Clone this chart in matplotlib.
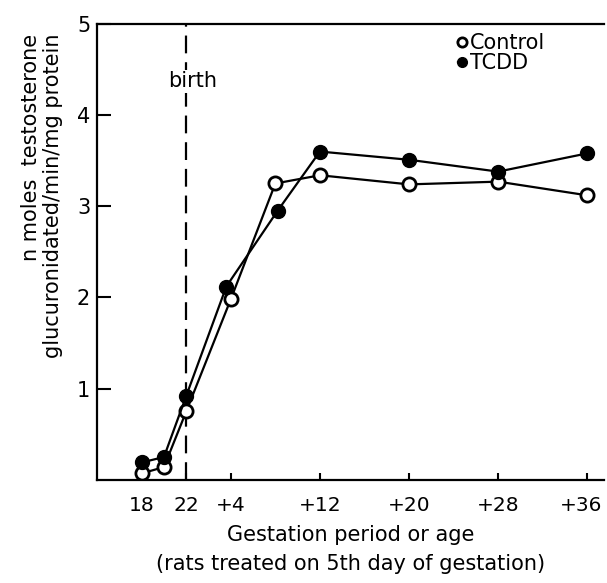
import matplotlib
matplotlib.use('Agg')
from matplotlib import pyplot as plt
from matplotlib.transforms import ScaledTranslation

# gestation day (18, 20, 22 = birth) then age after birth (+4 ... +36 -> 26 ... 58)
control_x = [18, 20, 22, 26, 30, 34, 42, 50, 58]
control_y = [0.07, 0.14, 0.75, 1.98, 3.25, 3.34, 3.24, 3.27, 3.12]
tcdd_x = [18, 20, 22, 25.6, 30.2, 34, 42, 50, 58]
tcdd_y = [0.19, 0.25, 0.92, 2.12, 2.95, 3.6, 3.51, 3.38, 3.58]

tick_pos = [18, 22, 26, 34, 42, 50, 58]
tick_labels = ['18', '22', '+4', '+12', '+20', '+28', '+36']
birth_day = 22

fontsize = 15

fig = plt.figure(figsize=(6.07, 5.83), dpi=100)
ax = fig.add_axes([0.160, 0.177, 0.835, 0.782])

ax.axvline(birth_day, color='black', linestyle=(0, (8, 4)), linewidth=1.6, zorder=1)
ax.text(birth_day + 0.6, 4.37, 'birth', fontsize=fontsize, ha='center', va='center',
        bbox=dict(facecolor='white', edgecolor='none', pad=1), zorder=2)

ax.plot(control_x, control_y, color='black', linewidth=1.6, marker='o', markersize=9.5,
        markerfacecolor='white', markeredgecolor='black', markeredgewidth=2, label='Control', zorder=3)
ax.plot(tcdd_x, tcdd_y, color='black', linewidth=1.6, marker='o', markersize=10,
        markerfacecolor='black', markeredgecolor='black', label='TCDD', zorder=3)

ax.set_xlim(14, 59.5)
ax.set_ylim(0, 5)
ax.set_xticks(tick_pos)
ax.set_xticklabels(tick_labels, fontsize=14.5)
ax.set_yticks([1, 2, 3, 4, 5])
ax.set_yticklabels(['1', '2', '3', '4', '5'], fontsize=fontsize)
ax.tick_params(axis='x', direction='in', length=5, width=1.5, pad=12)
ax.tick_params(axis='y', direction='in', length=10, width=1.5, pad=5)
ax.spines['right'].set_visible(False)
for side in ['left', 'bottom', 'top']:
    ax.spines[side].set_linewidth(1.6)

# last tick label sits a little left of its tick, as in the original
last = ax.get_xticklabels()[-1]
last.set_transform(last.get_transform() + ScaledTranslation(-6 / 100, 0, fig.dpi_scale_trans))

ax.set_xlabel('Gestation period or age\n(rats treated on 5th day of gestation)',
              fontsize=fontsize, linespacing=1.55, labelpad=7)
fig.text(42 / 607, 1 - 34 / 583, 'n moles  testosterone\nglucuronidated/min/mg protein',
         fontsize=fontsize, rotation=90, ha='center', va='top', multialignment='right',
         linespacing=1.15)

ax.legend(loc='upper right', bbox_to_anchor=(0.905, 1.003), frameon=False, fontsize=fontsize,
          handlelength=0.4, handletextpad=0.2, labelspacing=0.0, markerscale=0.7, borderpad=0.0)

fig.savefig('out.png', dpi=100)
